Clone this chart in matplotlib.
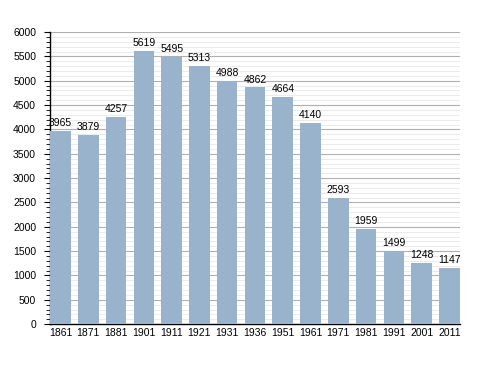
import numpy as np
import matplotlib.pyplot as plt
from matplotlib.ticker import MultipleLocator

plt.rcParams['font.family'] = ['Liberation Sans', 'DejaVu Sans']

years = ["1861", "1871", "1881", "1901", "1911", "1921", "1931", "1936",
         "1951", "1961", "1971", "1981", "1991", "2001", "2011"]
population = [3965, 3879, 4257, 5619, 5495, 5313, 4988, 4862,
              4664, 4140, 2593, 1959, 1499, 1248, 1147]

fig = plt.figure(figsize=(4.88, 3.73), dpi=100)
ax = fig.add_axes([0.1025, 0.131, 0.84, 0.783])

x = np.arange(len(years))
ax.bar(x, population, width=0.74, color="#9ab3cd", zorder=3)
for xi, v in zip(x, population):
    ax.text(xi, v + 60, str(v), ha="center", va="bottom", fontsize=7.5, zorder=4)

ax.set_xlim(-0.38, len(years) - 0.62)
ax.set_ylim(0, 6000)
ax.yaxis.set_major_locator(MultipleLocator(500))
ax.yaxis.set_minor_locator(MultipleLocator(100))
ax.grid(axis="y", which="major", color="#b0b0b0", linewidth=0.8, zorder=0)
ax.grid(axis="y", which="minor", color="#e8e8e8", linewidth=0.6, zorder=0)
ax.set_xticks(x)
ax.set_xticklabels(years)
ax.tick_params(axis="x", length=0, labelsize=7.5, pad=3)
ax.tick_params(axis="y", which="major", length=4, width=0.8, labelsize=7.5, pad=6)
ax.tick_params(axis="y", which="minor", length=3, width=0.6)
for s in ["top", "right"]:
    ax.spines[s].set_visible(False)
ax.spines["left"].set_linewidth(1)
ax.spines["bottom"].set_linewidth(1)

fig.savefig("out.png", dpi=100)
